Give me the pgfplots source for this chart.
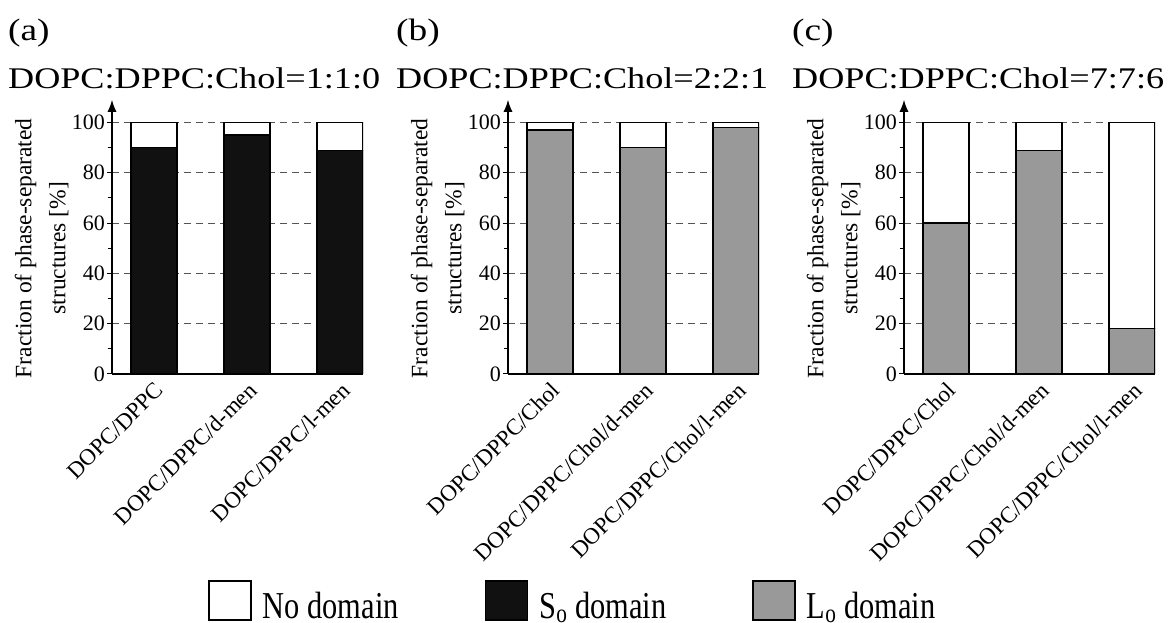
\documentclass[border=0pt]{standalone}
\usepackage{fontspec}
\setmainfont{Liberation Serif}
\newfontfamily\titlefont{Liberation Serif}[FakeStretch=1.205]
\newfontfamily\legfont{Liberation Serif}[FakeStretch=0.8]
\usepackage{pgfplots}
\pgfplotsset{compat=1.18}
\usetikzlibrary{arrows.meta}

\definecolor{sodom}{HTML}{111111}
\definecolor{lodom}{HTML}{999999}
\definecolor{gridc}{HTML}{555555}

\pgfplotsset{
  panel/.style={
    scale only axis, width=251pt, height=274.2pt,
    xmin=-0.452, xmax=2.247, ymin=0, ymax=109,
    ybar stacked, bar width=46pt,
    axis x line=bottom, axis y line=left,
    x axis line style={-, line width=1.3pt},
    y axis line style={-{Latex[length=12pt,width=9pt]}, line width=1.3pt},
    xtick={0,1,2}, major x tick style={draw=none},
    ytick={0,20,...,100}, minor ytick={10,30,...,90},
    tick align=outside, major tick length=5pt, minor tick length=4pt,
    ytick style={line width=1pt, black},
    minor y tick style={line width=1pt, black},
    ymajorgrids, grid style={dash pattern=on 7pt off 5pt, gridc, line width=0.8pt},
    x tick label style={font=\fontsize{23}{25}\selectfont, rotate=45, anchor=north east, inner sep=1pt},
    y tick label style={font=\fontsize{22}{24}\selectfont, inner sep=2pt},
    /pgf/number format/assume math mode=true,
    ylabel={Fraction of phase-separated\\structures [\%]},
    ylabel style={at={(ticklabel cs:0.4587)}, font=\fontsize{23.5}{34}\selectfont, align=center, inner sep=1pt},
    every axis plot/.append style={draw=black, line width=1.2pt},
  },
  sqleg/.style={legend image code/.code={\path (0pt,-8pt); \draw[##1] (0pt,-1pt) rectangle (42pt,38pt);}},
}

\begin{document}
\begin{tikzpicture}
\useasboundingbox (0,0) rectangle (1170pt,623pt);

\tikzset{ttl/.style={anchor=base west, inner sep=0, font=\titlefont\fontsize{30}{32}\selectfont},
         lbl/.style={anchor=base west, inner sep=0, font=\titlefont\fontsize{31}{32}\selectfont}}
\node[lbl] at (8pt,582pt) {(a)};
\node[ttl] at (8pt,534pt) {DOPC:DPPC:Chol=1:1:0};
\node[lbl] at (396pt,582pt) {(b)};
\node[ttl] at (396pt,534pt) {DOPC:DPPC:Chol=2:2:1};
\node[lbl] at (792pt,582pt) {(c)};
\node[ttl] at (792pt,534pt) {DOPC:DPPC:Chol=7:7:6};

% (a)
\begin{axis}[panel, at={(112pt,249pt)}, anchor=south west,
  xticklabels={DOPC/DPPC, DOPC/DPPC/d-men, DOPC/DPPC/l-men}]
\addplot[fill=sodom] coordinates {(0,90) (1,95) (2,89)};
\addplot[fill=white] coordinates {(0,10) (1,5) (2,11)};
\end{axis}

% (b)
\begin{axis}[panel, at={(508pt,249pt)}, anchor=south west,
  xticklabels={DOPC/DPPC/Chol, DOPC/DPPC/Chol/d-men, DOPC/DPPC/Chol/l-men},
  legend columns=3,
  legend style={at={(axis description cs:-1.195,-0.926)}, anchor=south west,
    draw=none, fill=none, inner sep=0pt,
    cells={anchor=base west},
    nodes={inner sep=0pt, font=\legfont\fontsize{38}{40}\selectfont},
    /tikz/every even column/.append style={column sep=86pt},
    /tikz/every odd column/.append style={column sep=11pt}}]
\addlegendimage{sqleg, fill=white, draw=black, line width=1.6pt}
\addlegendimage{sqleg, fill=sodom, draw=black, line width=1.6pt}
\addlegendimage{sqleg, fill=lodom, draw=black, line width=1.6pt}
\addplot[fill=lodom] coordinates {(0,97) (1,90) (2,98)};
\addplot[fill=white] coordinates {(0,3) (1,10) (2,2)};
\legend{No domain, S\textsubscript{o} domain, L\textsubscript{o} domain}
\end{axis}

% (c)
\begin{axis}[panel, at={(904pt,249pt)}, anchor=south west,
  xticklabels={DOPC/DPPC/Chol, DOPC/DPPC/Chol/d-men, DOPC/DPPC/Chol/l-men}]
\addplot[fill=lodom] coordinates {(0,60) (1,89) (2,18)};
\addplot[fill=white] coordinates {(0,40) (1,11) (2,82)};
\end{axis}
\end{tikzpicture}
\end{document}
